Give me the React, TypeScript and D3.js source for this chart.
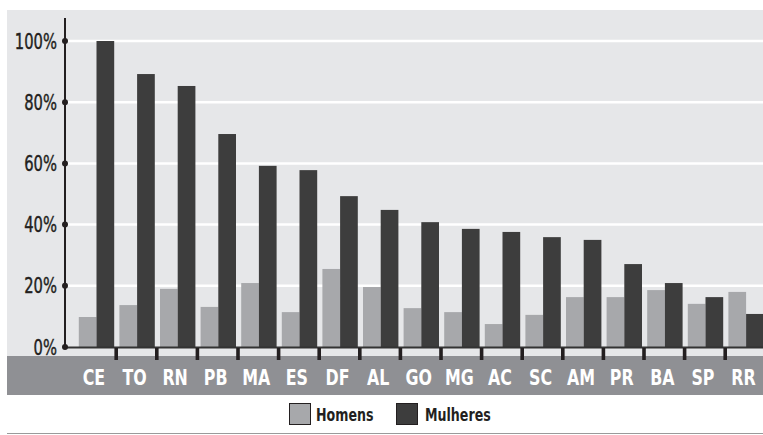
import React from "react";
import * as d3 from "d3";

const categories = ["CE","TO","RN","PB","MA","ES","DF","AL","GO","MG","AC","SC","AM","PR","BA","SP","RR"];
const homens = [9.8,13.7,19.0,13.1,20.9,11.4,25.5,19.6,12.7,11.4,7.5,10.5,16.3,16.3,18.6,14.1,18.0];
const mulheres = [100,89.2,85.3,69.6,59.2,57.8,49.3,44.8,40.8,38.6,37.6,35.9,35.0,27.1,20.9,16.3,10.8];
const yTicks = [0,20,40,60,80,100];
const seriesNames = ["Homens","Mulheres"];

const W = 763, H = 435;
const cHom = "#a7a8ab", cMul = "#3d3d3d";
const font = "'DejaVu Sans Condensed', 'DejaVu Sans', sans-serif";

function Squeezed(props: { x: number; y: number; sx: number; children: React.ReactNode; [k: string]: any }) {
  const { x, y, sx, children, ...rest } = props;
  return (
    <text transform={`translate(${x},${y}) scale(${sx},1)`} {...rest}>{children}</text>
  );
}

export default function App() {
  const y = d3.scaleLinear().domain([0, 100]).range([347, 41]);
  const x = d3.scaleBand<string>().domain(categories).range([75.6, 75.6 + 40.6 * categories.length]).paddingInner(0).paddingOuter(0);
  const bw = 17.7;
  const off = 3.2;
  const axisX = 65;
  return (
    <svg width={W} height={H} style={{ position: "absolute", left: 0, top: 0, background: "#fff" }}>
      <rect x={7} y={10} width={W - 7} height={346} fill="#e6e7e9" />
      <rect x={7} y={356} width={W - 7} height={39} fill="#8f9094" />
      {yTicks.filter(t => t > 0).map(t => (
        <line key={t} x1={axisX} x2={W} y1={y(t)} y2={y(t)} stroke="#fff" strokeWidth={2.5} />
      ))}
      {categories.map((c, i) => {
        const x0 = (x(c) as number) + off;
        return (
          <g key={c}>
            <rect x={x0} y={y(homens[i])} width={bw} height={y(0) - y(homens[i])} fill={cHom} />
            <rect x={x0 + bw} y={y(mulheres[i])} width={bw} height={y(0) - y(mulheres[i])} fill={cMul} />
          </g>
        );
      })}
      <line x1={axisX} x2={W} y1={y(0) + 0.5} y2={y(0) + 0.5} stroke="#333" strokeWidth={2} />
      {categories.slice(1).map(c => (
        <rect key={c} x={(x(c) as number) - 1.8} y={348} width={3.6} height={12} fill="#231f20" />
      ))}
      {categories.map(c => (
        <Squeezed key={c} x={(x(c) as number) + x.bandwidth() / 2 - 2} y={385} sx={0.8} textAnchor="middle"
          fill="#fff" fontFamily={font} fontWeight="bold" fontSize={22}>{c}</Squeezed>
      ))}
      <line x1={axisX} x2={axisX} y1={18} y2={y(0)} stroke="#231f20" strokeWidth={2} />
      {yTicks.map(t => (
        <g key={t}>
          <circle cx={axisX} cy={y(t)} r={3} fill="#231f20" />
          <Squeezed x={57} y={y(t) + 7.5} sx={0.78} textAnchor="end" fill="#231f20" stroke="#231f20" strokeWidth={0.4}
            fontFamily={font} fontSize={21}>{t}%</Squeezed>
        </g>
      ))}
      <g>
        <rect x={289.5} y={403.5} width={21} height={21} fill={cHom} stroke="#231f20" strokeWidth={1} />
        <Squeezed x={316} y={421} sx={0.78} fill="#231f20" fontFamily={font} fontWeight="bold" fontSize={18}>{seriesNames[0]}</Squeezed>
        <rect x={396.5} y={403.5} width={21} height={21} fill={cMul} stroke="#231f20" strokeWidth={1} />
        <Squeezed x={425} y={421} sx={0.78} fill="#231f20" fontFamily={font} fontWeight="bold" fontSize={18}>{seriesNames[1]}</Squeezed>
      </g>
      <line x1={7} x2={W} y1={433.5} y2={433.5} stroke="#9a9a9a" strokeWidth={1.2} />
    </svg>
  );
}
